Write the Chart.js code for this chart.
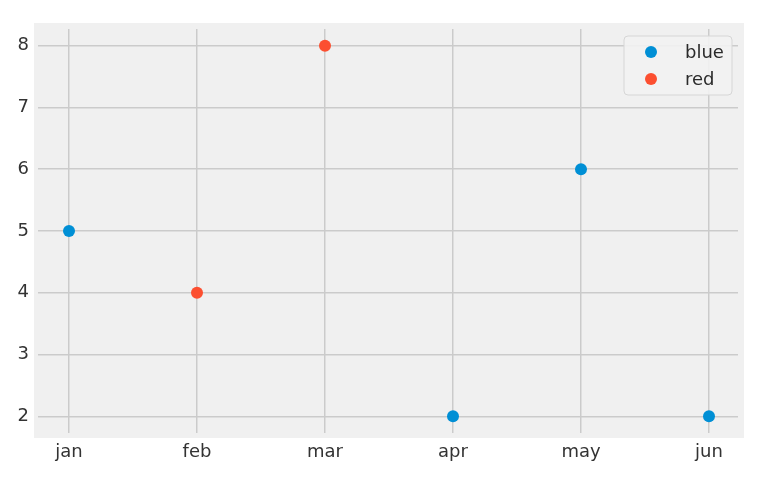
<!DOCTYPE html>
<html>
<head>
<meta charset="utf-8">
<script src="https://cdn.jsdelivr.net/npm/chart.js@4/dist/chart.umd.min.js"></script>
<style>
  html, body { margin: 0; padding: 0; background: #fff; }
  #wrap { width: 772px; height: 480px; }
</style>
</head>
<body>
<div id="wrap"><canvas id="chart" width="772" height="480"></canvas></div>
<script>
// data
const months = ['jan', 'feb', 'mar', 'apr', 'may', 'jun']
const blueIdx = [0, 3, 4, 5]
const blueVals = [5, 2, 6, 2]
const redIdx = [1, 2]
const redVals = [4, 8]
const yTicks = [2, 3, 4, 5, 6, 7, 8]

const toPoints = (idx, vals) => idx.map((i, k) => ({ x: i, y: vals[k] }))

// light grey panel behind the axes, a bit larger than the grid area
const panel = {
  id: 'panel',
  beforeDraw(chart) {
    const ctx = chart.ctx
    const a = chart.chartArea
    ctx.save()
    ctx.fillStyle = '#ffffff'
    ctx.fillRect(0, 0, chart.width, chart.height)
    ctx.fillStyle = '#f0f0f0'
    ctx.fillRect(a.left - 4, a.top - 6, a.right - a.left + 10, a.bottom - a.top + 11)
    ctx.restore()
  }
}

// legend box in the upper right corner
const boxLegend = {
  id: 'boxLegend',
  afterDatasetsDraw(chart) {
    const ctx = chart.ctx
    const x = 624, y = 36, w = 108, h = 59
    ctx.save()
    ctx.fillStyle = 'rgba(242,242,242,0.9)'
    ctx.strokeStyle = '#d6d6d6'
    ctx.lineWidth = 1
    ctx.beginPath()
    ctx.roundRect(x, y, w, h, 4)
    ctx.fill()
    ctx.stroke()
    ctx.font = '18px "DejaVu Sans"'
    ctx.textBaseline = 'middle'
    chart.data.datasets.forEach((ds, i) => {
      const cy = 52 + i * 27
      ctx.fillStyle = ds.backgroundColor
      ctx.beginPath()
      ctx.arc(651, cy, 6, 0, Math.PI * 2)
      ctx.fill()
      ctx.fillStyle = '#2b2b2b'
      ctx.fillText(ds.label, 685, cy + 1)
    })
    ctx.restore()
  }
}

new Chart(document.getElementById('chart'), {
  type: 'scatter',
  data: {
    datasets: [
      { label: 'blue', data: toPoints(blueIdx, blueVals), backgroundColor: '#008fd5', borderWidth: 0, pointRadius: 6 },
      { label: 'red', data: toPoints(redIdx, redVals), backgroundColor: '#fc4f30', borderWidth: 0, pointRadius: 6 }
    ]
  },
  options: {
    responsive: false,
    animation: false,
    layout: { padding: { top: 29, right: 34, left: 0, bottom: 0 } },
    plugins: { legend: { display: false }, tooltip: { enabled: false } },
    scales: {
      x: {
        type: 'linear',
        min: -31 / 128,
        max: 5 + 29 / 128,
        afterBuildTicks: s => { s.ticks = months.map((m, i) => ({ value: i })) },
        afterFit: s => { s.height = 47 },
        grid: { color: '#cbcbcb', lineWidth: 1.5, drawTicks: false },
        border: { display: false },
        ticks: {
          padding: 9,
          color: '#333333',
          font: { family: 'DejaVu Sans', size: 18 },
          callback: v => months[v]
        }
      },
      y: {
        min: 1.73,
        max: 8.27,
        afterBuildTicks: s => { s.ticks = yTicks.map(v => ({ value: v })) },
        afterFit: s => { s.width = 38 },
        grid: { color: '#cbcbcb', lineWidth: 1.5, drawTicks: false },
        border: { display: false },
        ticks: {
          padding: 9,
          color: '#333333',
          font: { family: 'DejaVu Sans', size: 18 }
        }
      }
    }
  },
  plugins: [panel, boxLegend]
})
</script>
</body>
</html>
